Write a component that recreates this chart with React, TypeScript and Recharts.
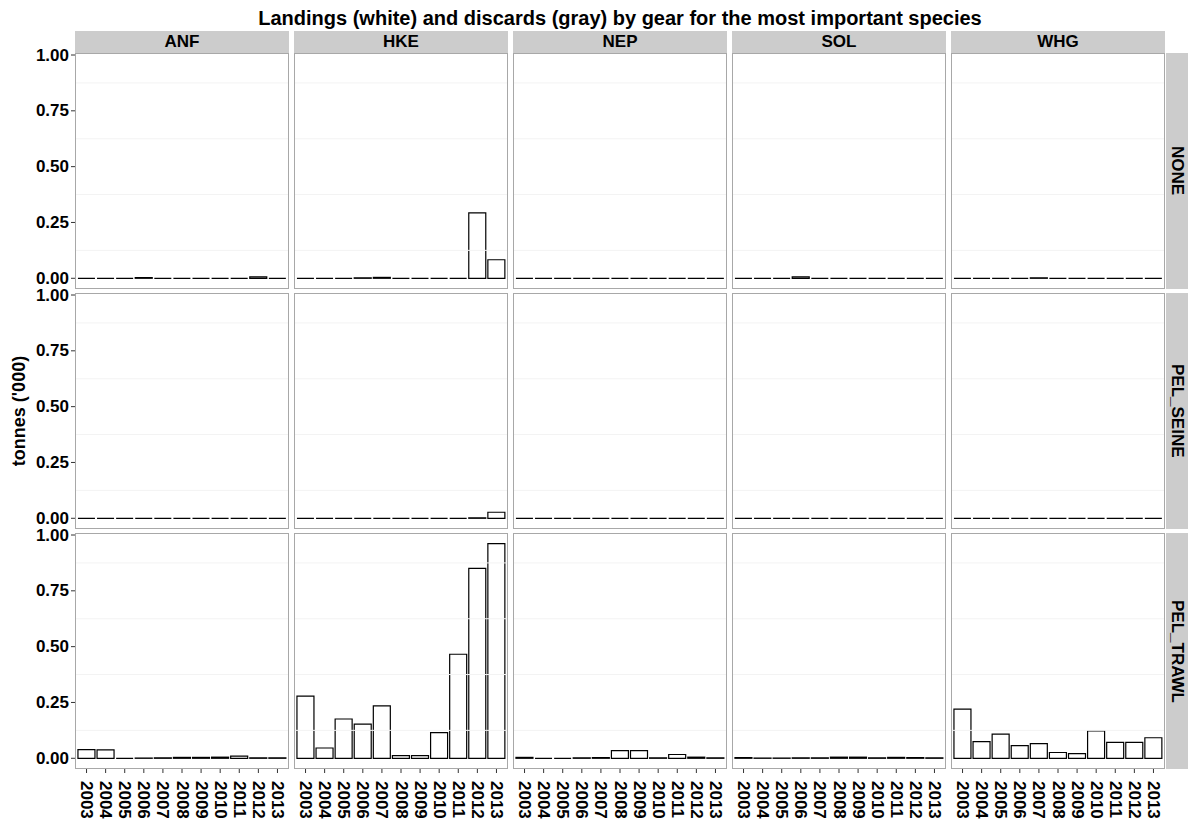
import { BarChart, Bar, XAxis, YAxis, ReferenceLine } from 'recharts';

const years = ['2003', '2004', '2005', '2006', '2007', '2008', '2009', '2010', '2011', '2012', '2013'];
const species = ['ANF', 'HKE', 'NEP', 'SOL', 'WHG'];
const gears = ['NONE', 'PEL_SEINE', 'PEL_TRAWL'];
const yTicks = [0, 0.25, 0.5, 0.75, 1];
const minorGrid = [0.125, 0.375, 0.625, 0.875];

// landings ('000 t) per year, one array per gear x species panel
const anfNone = [0, 0, 0, 0.003, 0, 0, 0, 0, 0, 0.006, 0];
const hkeNone = [0, 0, 0, 0.002, 0.004, 0, 0, 0, 0, 0.293, 0.083];
const nepNone = [0, 0, 0, 0, 0, 0, 0, 0, 0, 0, 0];
const solNone = [0, 0, 0, 0.006, 0, 0, 0, 0, 0, 0, 0];
const whgNone = [0, 0, 0, 0, 0.002, 0, 0, 0, 0, 0, 0];

const anfSeine = [0, 0, 0, 0, 0, 0, 0, 0, 0, 0, 0];
const hkeSeine = [0, 0, 0, 0, 0, 0, 0, 0, 0, 0.002, 0.027];
const nepSeine = [0, 0, 0, 0, 0, 0, 0, 0, 0, 0, 0];
const solSeine = [0, 0, 0, 0, 0, 0, 0, 0, 0, 0, 0];
const whgSeine = [0, 0, 0, 0, 0, 0, 0, 0, 0, 0, 0];

const anfTrawl = [0.039, 0.038, 0, 0.001, 0.002, 0.004, 0.004, 0.005, 0.01, 0.002, 0.002];
const hkeTrawl = [0.278, 0.046, 0.176, 0.153, 0.235, 0.012, 0.012, 0.115, 0.466, 0.851, 0.961];
const nepTrawl = [0.004, 0, 0, 0.002, 0.003, 0.034, 0.034, 0.002, 0.017, 0.005, 0.002];
const solTrawl = [0.003, 0.001, 0.001, 0.002, 0.002, 0.005, 0.005, 0.002, 0.004, 0.003, 0.002];
const whgTrawl = [0.22, 0.075, 0.108, 0.057, 0.066, 0.026, 0.021, 0.123, 0.071, 0.071, 0.092];

const landings = [
  [anfNone, hkeNone, nepNone, solNone, whgNone],
  [anfSeine, hkeSeine, nepSeine, solSeine, whgSeine],
  [anfTrawl, hkeTrawl, nepTrawl, solTrawl, whgTrawl],
];

const FONT = '"Liberation Sans", Arial, Helvetica, sans-serif';
const PANEL_W = 214;
const PANEL_H = 236;
const LEFT0 = 75;
const TOP0 = 53;
const COL_STEP = 219;
const ROW_STEP = 240;
const YAXIS_W = 75;
const XAXIS_H = 56;
const PAD_TOP = 12; // room above the plot so the top tick label isn't squeezed

/* draws the bar as an outlined path so zero values still show as a flat line */
function OutlinedBar(props: { x?: number; y?: number; width?: number; height?: number }) {
  const { x, y, width, height } = props;
  if (x == null || y == null || width == null) return null;
  const h = Math.max(height || 0, 0);
  return (
    <path
      d={`M${x},${y + h}V${y}H${x + width}V${y + h}Z`}
      fill="#ffffff"
      stroke="#000000"
      strokeWidth={1.2}
    />
  );
}

function YearTick(props: { x?: number; y?: number; payload?: { value: string } }) {
  const { x = 0, y = 0, payload } = props;
  if (!payload) return null;
  return (
    <g transform={`translate(${x},${y})`}>
      <text
        x={6}
        y={0}
        transform="rotate(90)"
        textAnchor="start"
        dominantBaseline="central"
        fill="#000"
        fontSize={17}
        fontWeight="bold"
        fontFamily={FONT}
      >
        {payload.value}
      </text>
    </g>
  );
}

function ValueTick(props: { x?: number; y?: number; payload?: { value: number } }) {
  const { x = 0, y = 0, payload } = props;
  if (!payload) return null;
  return (
    <text
      x={x}
      y={y}
      textAnchor="end"
      dominantBaseline="central"
      fill="#000"
      fontSize={17}
      fontWeight="bold"
      fontFamily={FONT}
    >
      {payload.value.toFixed(2)}
    </text>
  );
}

function Panel({ row, col }: { row: number; col: number }) {
  const values = landings[row][col];
  const data = years.map((year, i) => ({ year, landings: values[i] }));
  const showY = col === 0;
  const showX = row === gears.length - 1;
  const left = showY ? LEFT0 - YAXIS_W : LEFT0 + COL_STEP * col;
  const top = TOP0 + ROW_STEP * row - PAD_TOP;
  const width = PANEL_W + (showY ? YAXIS_W : 0);
  const height = PANEL_H + PAD_TOP + (showX ? XAXIS_H : 0);

  return (
    <div style={{ position: 'absolute', left, top }}>
      <BarChart
        width={width}
        height={height}
        data={data}
        margin={{ top: PAD_TOP, right: 0, bottom: 0, left: 0 }}
        barCategoryGap="5%"
      >
        <XAxis
          dataKey="year"
          type="category"
          hide={!showX}
          height={XAXIS_H}
          interval={0}
          padding={{ left: 2, right: 2 }}
          axisLine={false}
          tickSize={4}
          tickLine={{ stroke: '#333333' }}
          tick={<YearTick />}
        />
        <YAxis
          type="number"
          hide={!showY}
          width={YAXIS_W}
          domain={[-0.048, 1.009]}
          allowDataOverflow
          ticks={yTicks}
          interval={0}
          axisLine={false}
          tickSize={4}
          tickLine={{ stroke: '#333333' }}
          tick={<ValueTick />}
        />
        {minorGrid.map((v) => (
          <ReferenceLine key={v} y={v} stroke="#f3f3f3" strokeWidth={1} />
        ))}
        <Bar dataKey="landings" isAnimationActive={false} shape={<OutlinedBar />} />
      </BarChart>
    </div>
  );
}

export default function App() {
  return (
    <div
      style={{
        position: 'absolute',
        left: 0,
        top: 0,
        width: 1188,
        height: 826,
        background: '#ffffff',
        fontFamily: FONT,
        color: '#000',
      }}
    >
      <div
        style={{
          position: 'absolute',
          left: LEFT0,
          top: 5,
          width: COL_STEP * 4 + PANEL_W,
          textAlign: 'center',
          fontSize: 20,
          lineHeight: '26px',
          fontWeight: 'bold',
        }}
      >
        Landings (white) and discards (gray) by gear for the most important species
      </div>

      {species.map((s, c) => (
        <div
          key={s}
          style={{
            position: 'absolute',
            left: LEFT0 + COL_STEP * c,
            top: 31,
            width: PANEL_W,
            height: 22,
            background: '#cccccc',
            textAlign: 'center',
            fontSize: 17,
            lineHeight: '22px',
            fontWeight: 'bold',
          }}
        >
          {s}
        </div>
      ))}

      {gears.map((g, r) => (
        <div
          key={g}
          style={{
            position: 'absolute',
            left: LEFT0 + COL_STEP * 4 + PANEL_W + 1,
            top: TOP0 + ROW_STEP * r,
            width: 22,
            height: PANEL_H,
            background: '#cccccc',
            display: 'flex',
            alignItems: 'center',
            justifyContent: 'center',
          }}
        >
          <span style={{ writingMode: 'vertical-rl', fontSize: 17, fontWeight: 'bold', lineHeight: '22px' }}>
            {g}
          </span>
        </div>
      ))}

      <div
        style={{
          position: 'absolute',
          left: 19,
          top: TOP0 + ROW_STEP + PANEL_H / 2,
          transform: 'translate(-50%, -50%) rotate(-90deg)',
          fontSize: 18,
          fontWeight: 'bold',
          whiteSpace: 'nowrap',
        }}
      >
        tonnes ('000)
      </div>

      {gears.map((g, r) =>
        species.map((s, c) => <Panel key={`${g}-${s}`} row={r} col={c} />)
      )}

      {gears.map((g, r) =>
        species.map((s, c) => (
          <div
            key={`border-${g}-${s}`}
            style={{
              position: 'absolute',
              left: LEFT0 + COL_STEP * c,
              top: TOP0 + ROW_STEP * r,
              width: PANEL_W,
              height: PANEL_H,
              border: '1px solid #a8a8a8',
              boxSizing: 'border-box',
              pointerEvents: 'none',
            }}
          />
        ))
      )}
    </div>
  );
}
